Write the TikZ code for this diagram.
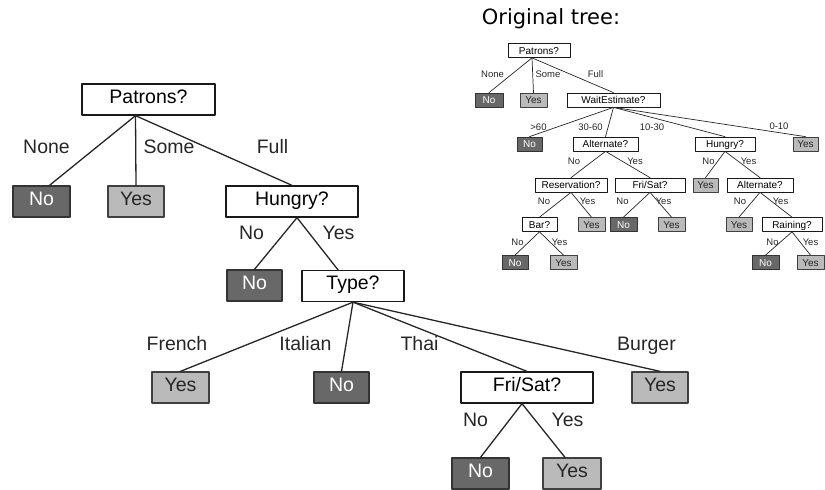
\documentclass[tikz,border=0pt]{standalone}
\usepackage{fontspec}
\setmainfont{Liberation Sans}
\newfontfamily\titlefont{DejaVu Sans}
\usepackage{xcolor}
\usetikzlibrary{positioning,calc}

\definecolor{noGray}{RGB}{104,104,104}
\definecolor{yesGray}{RGB}{186,186,186}

\begin{document}
\begin{tikzpicture}[
	x=1pt,y=-1pt,
	line cap=round,line join=round,
	font=\fontsize{19.5}{22}\selectfont,
	qbox/.style={draw=black!90, fill=white, line width=1.3pt, minimum height=31pt,
		inner sep=0pt, text height=0.72em, text depth=0pt},
	nobox/.style={qbox, fill=noGray, draw=black!80, text=white},
	yesbox/.style={qbox, fill=yesGray, draw=black!75, text=black!85},
	lbl/.style={inner sep=0pt, text height=0.72em, text depth=0pt, text=black!85},
	branch/.style={line width=1.3pt, black!85},
	smallsz/.style={font=\fontsize{10}{12}\selectfont, minimum height=14pt, line width=0.7pt},
	slbl/.style={lbl, font=\fontsize{9.5}{11}\selectfont},
	sbranch/.style={line width=0.7pt, black!85}
	]
	\useasboundingbox (0,0) rectangle (825,490);
	
	%----- learned tree (left)
	\node[qbox, minimum width=133pt] (patrons) at (148.5,99.5) {Patrons?};
	\node[nobox, minimum width=57pt] (noNone) at (41.5,201.5) {No};
	\node[yesbox, minimum width=56pt] (yesSome) at (136,201.5) {Yes};
	\node[qbox, minimum width=132pt] (hungry) at (292,201.5) {Hungry?};
	\node[nobox, minimum width=55pt] (noHungry) at (254.5,285.5) {No};
	\node[qbox, minimum width=102pt] (typeQ) at (353,286) {Type?};
	\node[yesbox, minimum width=57pt] (yesFrench) at (180.5,387.5) {Yes};
	\node[nobox, minimum width=55pt] (noItalian) at (341.5,387.5) {No};
	\node[qbox, minimum width=132pt] (friSat) at (527,387.5) {Fri/Sat?};
	\node[yesbox, minimum width=56pt] (yesBurger) at (660,387.5) {Yes};
	\node[nobox, minimum width=57pt] (noFri) at (480.5,473.5) {No};
	\node[yesbox, minimum width=58pt] (yesFri) at (572,473.5) {Yes};
	
	% branch labels
	\node[lbl] (lNone) at (46.5,150) {None};
	\node[lbl] (lSome) at (169,150) {Some};
	\node[lbl] (lFull) at (272.5,150) {Full};
	\node[lbl] (lHunNo) at (251.5,236) {No};
	\node[lbl] (lHunYes) at (338.5,236) {Yes};
	\node[lbl] (lFrench) at (177,347) {French};
	\node[lbl] (lItalian) at (305.5,347) {Italian};
	\node[lbl] (lThai) at (419.5,347) {Thai};
	\node[lbl] (lBurger) at (646.5,347) {Burger};
	\node[lbl] (lFriNo) at (475.5,423) {No};
	\node[lbl] (lFriYes) at (567.5,423) {Yes};
	
	% branches
	\coordinate (patB) at ($(patrons.south)+(-13,0)$);
	\draw[branch] (patB) -- ([xshift=8pt]noNone.north);
	\draw[branch] (patB) -- (yesSome.north);
	\draw[branch] (patB) -- (hungry.north);
	\coordinate (hunB) at ($(hungry.south)+(5,0)$);
	\draw[branch] (hunB) -- (noHungry.north);
	\draw[branch] (hunB) -- ([xshift=-15pt]typeQ.north);
	\draw[branch] (typeQ.south) -- (yesFrench.north);
	\draw[branch] (typeQ.south) -- (noItalian.north);
	\draw[branch] (typeQ.south) -- (friSat.north);
	\draw[branch] (typeQ.south) -- (yesBurger.north);
	\coordinate (friB) at ($(friSat.south)+(-5,0)$);
	\draw[branch] (friB) -- (noFri.north);
	\draw[branch] (friB) -- ([xshift=-7pt]yesFri.north);
	
	%----- original tree (top right)
	\node[lbl, text=black, font=\titlefont\fontsize{21}{24}\selectfont] (title) at (551,21) {Original tree:};
	
	\node[qbox, smallsz, minimum width=62pt] (oPatrons) at (539,50.5) {Patrons?};
	\node[nobox, smallsz, minimum width=28pt] (oNo1) at (489,100) {No};
	\node[yesbox, smallsz, minimum width=27pt] (oYes1) at (533.5,100) {Yes};
	\node[qbox, smallsz, minimum width=93pt] (oWait) at (613.5,100) {WaitEstimate?};
	
	\node[nobox, smallsz, minimum width=25pt] (oNo2) at (529.5,144) {No};
	\node[qbox, smallsz, minimum width=65pt] (oAlt) at (605.5,144) {Alternate?};
	\node[qbox, smallsz, minimum width=60pt] (oHungry) at (725,144) {Hungry?};
	\node[yesbox, smallsz, minimum width=25pt] (oYes2) at (805.5,144) {Yes};
	
	\node[qbox, smallsz, minimum width=72pt] (oRes) at (571,185) {Reservation?};
	\node[qbox, smallsz, minimum width=70pt] (oFri) at (650,185) {Fri/Sat?};
	\node[yesbox, smallsz, minimum width=25pt] (oYes3) at (705.5,185) {Yes};
	\node[qbox, smallsz, minimum width=66pt] (oAlt2) at (760,185) {Alternate?};
	
	\node[qbox, smallsz, minimum width=35pt] (oBar) at (539.5,224.5) {Bar?};
	\node[yesbox, smallsz, minimum width=27pt] (oYes4) at (591.5,224.5) {Yes};
	\node[nobox, smallsz, minimum width=27pt] (oNo3) at (623.5,224.5) {No};
	\node[yesbox, smallsz, minimum width=27pt] (oYes5) at (671.5,224.5) {Yes};
	\node[yesbox, smallsz, minimum width=26pt] (oYes6) at (739,224.5) {Yes};
	\node[qbox, smallsz, minimum width=60pt] (oRain) at (792,224.5) {Raining?};
	
	\node[nobox, smallsz, minimum width=26pt] (oNo4) at (515,262.5) {No};
	\node[yesbox, smallsz, minimum width=27pt] (oYes7) at (563.5,262.5) {Yes};
	\node[nobox, smallsz, minimum width=27pt] (oNo5) at (765.5,262.5) {No};
	\node[yesbox, smallsz, minimum width=27pt] (oYes8) at (810.5,262.5) {Yes};
	
	% branch labels
	\node[slbl] (oLNone) at (492.5,74) {None};
	\node[slbl] (oLSome) at (548,74) {Some};
	\node[slbl] (oLFull) at (595.5,74) {Full};
	\node[slbl] (oL60) at (538.5,127) {>60};
	\node[slbl] (oL3060) at (590.5,127) {30-60};
	\node[slbl] (oL1030) at (652,127) {10-30};
	\node[slbl] (oL010) at (779,126) {0-10};
	\node[slbl] (oLAltNo) at (574,161) {No};
	\node[slbl] (oLAltYes) at (635,161) {Yes};
	\node[slbl] (oLHunNo) at (708.5,161) {No};
	\node[slbl] (oLHunYes) at (748.5,161) {Yes};
	\node[slbl] (oLResNo) at (544,201) {No};
	\node[slbl] (oLResYes) at (587.5,201) {Yes};
	\node[slbl] (oLFriNo) at (622.5,201) {No};
	\node[slbl] (oLFriYes) at (663.5,201) {Yes};
	\node[slbl] (oLAlt2No) at (740,201) {No};
	\node[slbl] (oLAlt2Yes) at (780.5,201) {Yes};
	\node[slbl] (oLBarNo) at (517.5,242) {No};
	\node[slbl] (oLBarYes) at (559.5,242) {Yes};
	\node[slbl] (oLRainNo) at (772.5,242) {No};
	\node[slbl] (oLRainYes) at (810.5,242) {Yes};
	
	% branches
	\coordinate (oPatB) at ($(oPatrons.south)+(-7,0)$);
	\draw[sbranch] (oPatB) -- (oNo1.north);
	\draw[sbranch] (oPatB) -- (oYes1.north);
	\draw[sbranch] (oPatB) -- (oWait.north);
	\foreach \a/\b in {oWait/oNo2, oWait/oAlt, oWait/oHungry, oWait/oYes2,
		oAlt/oRes, oAlt/oFri, oHungry/oYes3, oHungry/oAlt2,
		oRes/oBar, oRes/oYes4, oFri/oNo3, oFri/oYes5,
		oAlt2/oYes6, oAlt2/oRain, oBar/oNo4, oBar/oYes7,
		oRain/oNo5, oRain/oYes8}{
		\draw[sbranch] (\a.south) -- (\b.north);
	}
	
\end{tikzpicture}
\end{document}
